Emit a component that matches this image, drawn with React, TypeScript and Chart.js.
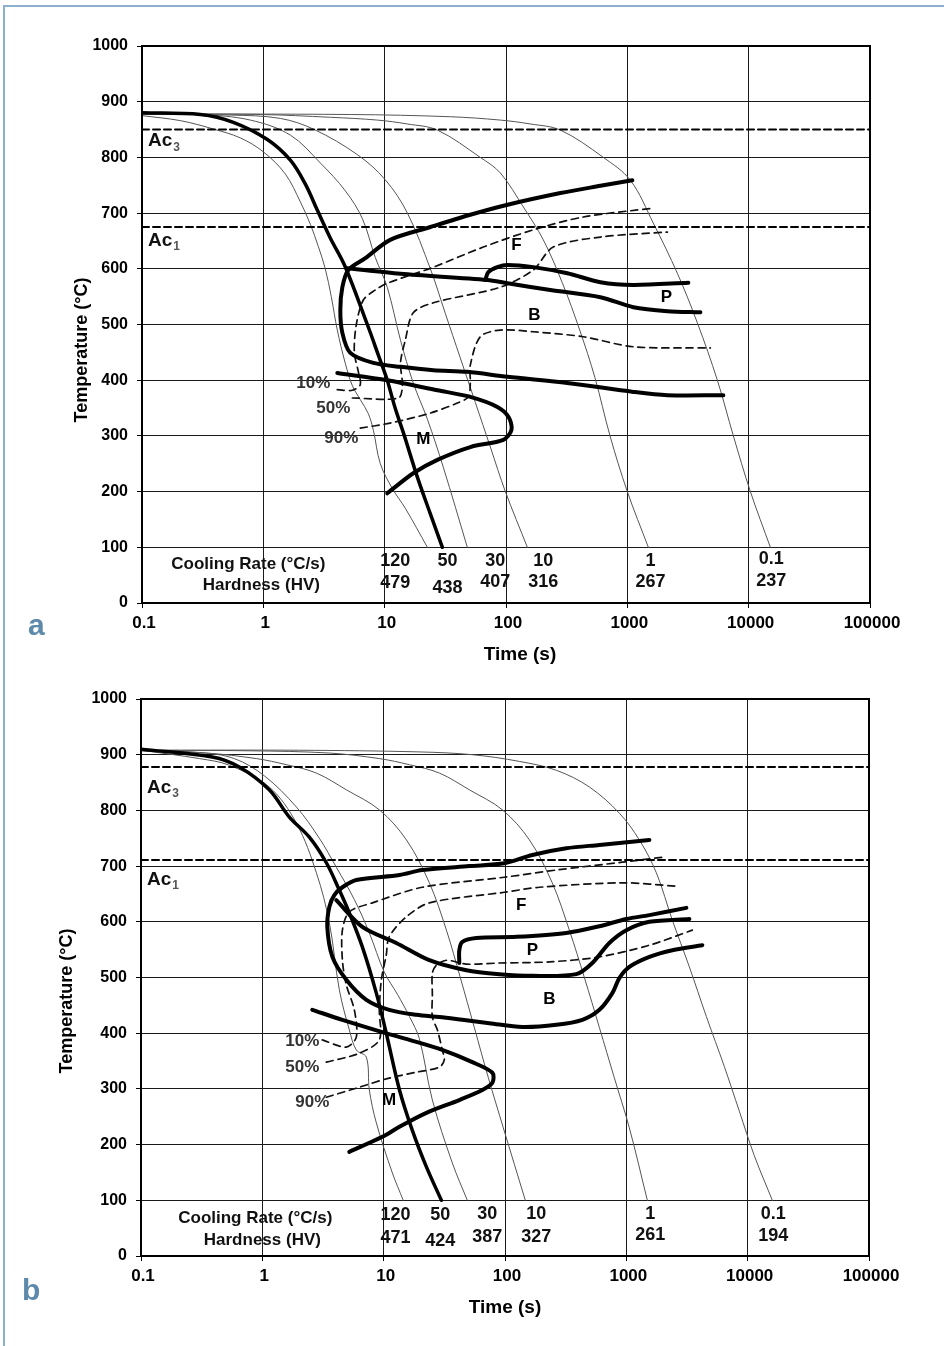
import React, { useEffect, useRef } from 'react';
import { Chart, registerables } from 'chart.js';

Chart.register(...registerables);

const FONT = "'Liberation Sans', Arial, Helvetica, sans-serif";
Chart.defaults.font.family = FONT;

type P = [number, number];

// ---------- shared axes ----------
const xTickValues = [0.1, 1, 10, 100, 1000, 10000, 100000];
const xTickLabels = ['0.1', '1', '10', '100', '1000', '10000', '100000'];
const yTickValues = [0, 100, 200, 300, 400, 500, 600, 700, 800, 900, 1000];
const xTitle = 'Time (s)';
const yTitle = 'Temperature (°C)';
const rateTitle = 'Cooling Rate (°C/s)';
const hvTitle = 'Hardness (HV)';
const pctText = ['10%', '50%', '90%'];
const regionText = ['F', 'P', 'B', 'M'];

// ---------- chart a ----------
const aAc3 = 850;
const aAc1 = 675;
const aCool120: P[] = [[0.1, 875], [0.207, 866], [0.387, 851], [0.646, 835], [1, 810], [1.52, 770], [2.02, 720], [2.44, 680], [2.84, 640], [3.24, 600], [3.63, 550], [4.07, 490], [4.74, 430], [5.42, 390], [6.3, 365], [7.33, 340], [8.07, 310], [9.21, 250], [11.6, 205], [14.8, 170], [22.5, 100]];
const aCool50: P[] = [[0.1, 880], [0.303, 877], [0.566, 863], [1.08, 832], [1.67, 795], [2.22, 752], [2.79, 705], [3.57, 655], [4.7, 605], [7.2, 500], [8.87, 445], [10.5, 400], [12.2, 350], [14.3, 305], [18.6, 226], [23.8, 160], [29.9, 100]];
const aCool30: P[] = [[0.1, 878], [0.303, 877], [0.782, 867], [1.67, 840], [2.95, 790], [4.74, 740], [6.55, 690], [8.38, 620], [10.5, 567], [13.5, 472], [17.2, 395], [22.5, 330], [30.4, 244], [48.0, 100]];
const aCool10: P[] = [[0.1, 878], [0.535, 876], [1.38, 870], [2.63, 850], [5.95, 805], [10.1, 760], [15.4, 700], [23.8, 600], [31.6, 520], [42.0, 440], [55.9, 360], [74.3, 280], [98.8, 200], [150, 100]];
const aCool1: P[] = [[0.1, 878], [0.945, 877], [3.57, 872], [8.7, 867], [15.4, 860], [27.2, 849], [61.4, 800], [89.8, 772], [139, 711], [203, 652], [291, 575], [405, 490], [540, 405], [720, 300], [1000, 200], [1490, 100]];
const aCool01: P[] = [[0.1, 878], [5.21, 877], [34.8, 873], [89.8, 867], [159, 860], [281, 849], [634, 800], [1059, 759], [1637, 682], [2583, 592], [3777, 503], [5520, 400], [7480, 300], [10330, 200], [15100, 100]];
const aFerriteBainiteStart: P[] = [[1100, 759], [600, 749], [281, 736], [103, 715], [50.8, 697], [23.8, 675], [11.1, 652], [6.93, 619], [5.02, 598], [4.48, 567], [4.31, 526], [4.48, 485], [5.21, 449], [8.07, 431], [13.5, 424], [25.2, 418], [48.0, 415], [103, 406], [320, 395], [1121, 379], [2137, 373], [6186, 373]];
const aPearliteEnd: P[] = [[4.92, 601], [13.5, 591], [70.2, 580], [103, 574], [232, 562], [600, 549], [1121, 531], [2137, 524], [4000, 522]];
const aPearliteStart: P[] = [[67.6, 580], [71.5, 594], [84.9, 603], [103, 607], [168, 603], [320, 592], [600, 576], [1121, 571], [3184, 575]];
const aMartensite: P[] = [[4.07, 413], [10.5, 400], [27.2, 382], [50.8, 370], [84.9, 352], [105, 334], [111, 311], [95.1, 293], [50.8, 280], [27.2, 257], [17.2, 233], [10.5, 197]];
const aPct10: P[] = [[4.07, 383], [5.42, 382], [6.3, 392], [6.07, 415], [5.62, 450], [5.84, 500], [6.67, 544], [8.38, 562], [10.5, 574], [25.2, 603], [65.0, 639], [168, 670], [434, 693], [1637, 709]];
const aPct50: P[] = [[5.42, 368], [12.97, 368], [14.0, 391], [13.5, 431], [14.8, 472], [17.2, 521], [25.2, 539], [89.8, 567], [168, 598], [245, 639], [600, 657], [2137, 666]];
const aPct90: P[] = [[6.3, 314], [11.1, 323], [23.8, 341], [39.7, 359], [48.9, 370], [50.8, 395], [50.8, 427], [61.4, 478], [89.8, 490], [168, 487], [434, 478], [1121, 460], [4831, 458]];
const aRegionTime = [122, 2097, 171, 20.8];
const aRegionTemp = [643, 548, 517, 294];
const aPctTime = [3.57, 5.21, 6.07];
const aPctTemp = [395, 350, 296];
const aRates = ['120', '50', '30', '10', '1', '0.1'];
const aHardness = ['479', '438', '407', '316', '267', '237'];
const aRateTime = [12.2, 32.9, 81.7, 203, 1549, 15380];
const aRateTemp = [75, 75, 75, 75, 75, 79];
const aHvTemp = [36, 27, 38, 38, 38, 39];
const aTableTitleTime = [0.752, 0.963];
const aTableTitleTemp = [70, 32];
const aAcLabelTemp = [829, 650];

// ---------- chart b ----------
const bAc3 = 878;
const bAc1 = 711;
const bCool120: P[] = [[0.1, 908], [0.303, 893], [0.535, 881], [1.14, 842], [1.91, 777], [2.79, 688], [3.57, 598], [4.31, 478], [5.21, 406], [5.95, 370], [7.2, 357], [7.62, 298], [8.7, 239], [11.8, 149], [14.5, 100]];
const bCool50: P[] = [[0.1, 910], [0.387, 896], [0.646, 878], [1.14, 837], [1.67, 788], [2.44, 752], [3.37, 706], [4.31, 657], [5.21, 616], [6.67, 555], [8.7, 472], [10.5, 400], [13.5, 298], [17.2, 226], [22.5, 160], [29.9, 100]];
const bCool30: P[] = [[0.1, 908], [0.303, 904], [0.588, 893], [1.04, 862], [1.91, 806], [2.95, 750], [4.07, 698], [5.73, 640], [7.62, 580], [10.1, 510], [12.97, 470], [16.3, 430], [19.7, 390], [25.2, 280], [36.8, 167], [48.9, 100]];
const bCool10: P[] = [[0.1, 907], [0.345, 903], [0.893, 893], [1.58, 882], [2.79, 867], [4.92, 837], [9.21, 801], [15.4, 747], [23.8, 670], [32.9, 585], [42.8, 500], [55.9, 410], [72.9, 320], [96.9, 230], [147, 100]];
const bCool1: P[] = [[0.1, 908], [0.782, 907], [3.57, 903], [9.21, 893], [16.3, 882], [28.8, 867], [50.8, 837], [95.1, 801], [159, 747], [245, 670], [339, 585], [451, 500], [600, 410], [796, 320], [1059, 230], [1490, 100]];
const bCool01: P[] = [[0.1, 908], [2.02, 908], [19.7, 905], [53.8, 900], [131, 888], [265, 872], [496, 842], [876, 795], [1280, 747], [1767, 688], [2394, 603], [3307, 519], [4565, 430], [6425, 340], [8536, 260], [11350, 180], [15970, 100]];
const bFerriteBainiteStart: P[] = [[1549, 747], [600, 738], [320, 732], [168, 720], [98.8, 705], [50.8, 700], [20.8, 693], [13.5, 684], [5.95, 675], [4.57, 662], [3.92, 648], [3.57, 627], [3.43, 591], [3.78, 537], [4.92, 496], [7.2, 460], [11.1, 442], [18.6, 433], [28.8, 429], [44.5, 424], [74.3, 418], [139, 411], [265, 415], [434, 424], [600, 442], [767, 472], [876, 499], [1059, 519], [1549, 537], [2394, 549], [4231, 558]];
const bPearliteEnd: P[] = [[4.07, 639], [6.67, 591], [12.7, 562], [23.8, 531], [48.0, 513], [89.8, 506], [168, 503], [387, 506], [525, 526], [724, 562], [1000, 585], [1549, 600], [3307, 605]];
const bPearliteStart: P[] = [[42.0, 526], [42.0, 549], [44.5, 564], [58.0, 571], [124, 573], [320, 580], [600, 592], [1000, 605], [1549, 612], [3124, 625]];
const bMartensite: P[] = [[2.58, 442], [4.57, 424], [9.75, 402], [16.3, 388], [30.4, 370], [53.8, 348], [78.7, 329], [78.7, 311], [65.0, 298], [42.0, 280], [22.5, 257], [13.5, 232], [9.75, 214], [5.21, 187]];
const bPct10: P[] = [[3.12, 388], [4.92, 375], [5.95, 393], [5.73, 442], [4.92, 487], [4.57, 531], [4.57, 585], [5.21, 618], [8.07, 634], [20.8, 662], [98.8, 680], [265, 693], [927, 707], [1982, 716]];
const bPct50: P[] = [[3.37, 348], [6.3, 364], [9.21, 388], [9.21, 442], [9.57, 496], [10.5, 540], [11.1, 573], [15.4, 609], [23.8, 634], [98.8, 653], [192, 662], [927, 670], [2583, 664]];
const bPct90: P[] = [[3.37, 285], [6.3, 303], [10.5, 318], [18.6, 330], [28.8, 339], [31.6, 352], [30.4, 370], [27.7, 406], [25.2, 429], [25.2, 469], [25.2, 508], [27.2, 522], [32.9, 531], [48.0, 524], [89.8, 526], [232, 528], [600, 537], [1549, 558], [3499, 585]];
const bRegionTime = [136, 168, 232, 11.1];
const bRegionTemp = [630, 549, 460, 280];
const bPctTime = [2.95, 2.95, 3.57];
const bPctTemp = [386, 338, 276];
const bRates = ['120', '50', '30', '10', '1', '0.1'];
const bHardness = ['471', '424', '387', '327', '261', '194'];
const bRateTime = [12.5, 29.3, 71.5, 181, 1577, 16280];
const bRateTemp = [74, 74, 75, 75, 75, 75];
const bHvTemp = [32, 27, 34, 34, 38, 36];
const bTableTitleTime = [0.875, 1.0];
const bTableTitleTemp = [68, 29];
const bAcLabelTemp = [840, 675];

// ---------- helpers ----------
type Item = { t: number; T: number; text: string; font: string; align?: CanvasTextAlign; color?: string };

function ds(pts: P[], color: string, width: number, dash: number[] = [], tension = 0.35) {
  return {
    data: pts.map(([x, y]) => ({ x, y })),
    borderColor: color,
    borderWidth: width,
    borderDash: dash,
    pointRadius: 0,
    fill: false,
    tension,
    borderCapStyle: 'round' as const,
  };
}

interface Spec {
  ac3: number; ac1: number;
  cools: P[][]; coolThick: P[];
  solids: P[][]; dashes: P[][];
  regionTime: number[]; regionTemp: number[];
  pctTime: number[]; pctTemp: number[];
  rates: string[]; hardness: string[]; rateTime: number[]; rateTemp: number[]; hvTemp: number[];
  tableTime: number[]; tableTemp: number[]; acTemp: number[];
  padTop: number; padRight: number; yAxisWidth: number; xAxisHeight: number;
  yTitlePos: [number, number]; xTitlePos: [number, number];
}

function makePlugin(spec: Spec) {
  return {
    id: 'cctText',
    afterDatasetsDraw(chart: any) {
      const { ctx, chartArea: a, scales } = chart;
      const xs = scales.x, ys = scales.y;
      ctx.save();
      ctx.strokeStyle = '#000';
      ctx.lineWidth = 2;
      ctx.strokeRect(a.left, a.top, a.right - a.left, a.bottom - a.top);
      ctx.fillStyle = '#000';
      ctx.textBaseline = 'middle';
      ctx.font = `bold 16px ${FONT}`;
      ctx.textAlign = 'right';
      yTickValues.forEach((v) => ctx.fillText(String(v), a.left - 14, ys.getPixelForValue(v)));
      ctx.font = `bold 17px ${FONT}`;
      ctx.textAlign = 'center';
      xTickValues.forEach((v, i) => ctx.fillText(xTickLabels[i], xs.getPixelForValue(v) + 2, a.bottom + 20));
      // axis titles
      ctx.font = `bold 19px ${FONT}`;
      ctx.fillText(xTitle, spec.xTitlePos[0], spec.xTitlePos[1]);
      ctx.save();
      ctx.translate(spec.yTitlePos[0], spec.yTitlePos[1]);
      ctx.rotate(-Math.PI / 2);
      ctx.font = `bold 18px ${FONT}`;
      ctx.fillText(yTitle, 0, 0);
      ctx.restore();

      const items: Item[] = [];
      regionText.forEach((s, i) => items.push({ t: spec.regionTime[i], T: spec.regionTemp[i], text: s, font: `bold 17px ${FONT}` }));
      pctText.forEach((s, i) => items.push({ t: spec.pctTime[i], T: spec.pctTemp[i], text: s, font: `bold 17px ${FONT}`, align: 'right', color: '#333' }));
      spec.rates.forEach((s, i) => items.push({ t: spec.rateTime[i], T: spec.rateTemp[i], text: s, font: `bold 18px ${FONT}`, color: '#111' }));
      spec.hardness.forEach((s, i) => items.push({ t: spec.rateTime[i], T: spec.hvTemp[i], text: s, font: `bold 18px ${FONT}`, color: '#111' }));
      items.push({ t: spec.tableTime[0], T: spec.tableTemp[0], text: rateTitle, font: `bold 17px ${FONT}`, color: '#111' });
      items.push({ t: spec.tableTime[1], T: spec.tableTemp[1], text: hvTitle, font: `bold 17px ${FONT}`, color: '#111' });
      for (const it of items) {
        ctx.font = it.font;
        ctx.fillStyle = it.color || '#000';
        ctx.textAlign = it.align || 'center';
        ctx.fillText(it.text, xs.getPixelForValue(it.t), ys.getPixelForValue(it.T));
      }
      // Ac labels
      ['3', '1'].forEach((sub, i) => {
        const x0 = a.left + 6;
        const y0 = ys.getPixelForValue(spec.acTemp[i]);
        ctx.font = `bold 19px ${FONT}`;
        ctx.fillStyle = '#111';
        ctx.textAlign = 'left';
        ctx.fillText('Ac', x0, y0);
        const w = ctx.measureText('Ac').width;
        ctx.font = `bold 12px ${FONT}`;
        ctx.fillStyle = '#555';
        ctx.fillText(sub, x0 + w + 1, y0 + 6);
      });
      ctx.restore();
    },
  };
}

function makeConfig(spec: Spec): any {
  const datasets: any[] = [];
  datasets.push(ds([[0.1, spec.ac3], [100000, spec.ac3]], '#000', 2, [7, 4], 0));
  datasets.push(ds([[0.1, spec.ac1], [100000, spec.ac1]], '#000', 2, [7, 4], 0));
  spec.solids.forEach((p) => datasets.push(ds(p, '#000', 4, [], 0.3)));
  spec.dashes.forEach((p) => datasets.push(ds(p, '#111', 1.7, [7, 5], 0.3)));
  datasets.push(ds(spec.coolThick, '#000', 3.5, [], 0.35));
  spec.cools.forEach((p) => datasets.push(ds(p, '#555', 1, [], 0.35)));
  const grid = { color: '#1a1a1a', lineWidth: 1, drawTicks: true, tickLength: 5, tickColor: '#000' };
  return {
    type: 'line',
    data: { datasets },
    options: {
      responsive: false,
      animation: false,
      events: [],
      layout: { padding: { left: 0, top: spec.padTop, right: spec.padRight, bottom: 0 } },
      plugins: { legend: { display: false }, tooltip: { enabled: false } },
      scales: {
        x: {
          type: 'logarithmic', min: 0.1, max: 100000,
          afterBuildTicks: (s: any) => { s.ticks = xTickValues.map((v) => ({ value: v })); },
          afterFit: (s: any) => { s.height = spec.xAxisHeight; },
          ticks: { display: false },
          grid,
          border: { display: true, color: '#000', width: 2 },
        },
        y: {
          type: 'linear', min: 0, max: 1000,
          afterBuildTicks: (s: any) => { s.ticks = yTickValues.map((v) => ({ value: v })); },
          afterFit: (s: any) => { s.width = spec.yAxisWidth; },
          ticks: { display: false },
          grid,
          border: { display: true, color: '#000', width: 2 },
        },
      },
    },
    plugins: [makePlugin(spec)],
  };
}

const specA: Spec = {
  ac3: aAc3, ac1: aAc1,
  cools: [aCool120, aCool30, aCool10, aCool1, aCool01], coolThick: aCool50,
  solids: [aFerriteBainiteStart, aPearliteEnd, aPearliteStart, aMartensite],
  dashes: [aPct10, aPct50, aPct90],
  regionTime: aRegionTime, regionTemp: aRegionTemp,
  pctTime: aPctTime, pctTemp: aPctTemp,
  rates: aRates, hardness: aHardness, rateTime: aRateTime, rateTemp: aRateTemp, hvTemp: aHvTemp,
  tableTime: aTableTitleTime, tableTemp: aTableTitleTemp, acTemp: aAcLabelTemp,
  padTop: 46, padRight: 74, yAxisWidth: 142, xAxisHeight: 77,
  yTitlePos: [82, 350], xTitlePos: [520, 655],
};

const specB: Spec = {
  ac3: bAc3, ac1: bAc1,
  cools: [bCool120, bCool30, bCool10, bCool1, bCool01], coolThick: bCool50,
  solids: [bFerriteBainiteStart, bPearliteEnd, bPearliteStart, bMartensite],
  dashes: [bPct10, bPct50, bPct90],
  regionTime: bRegionTime, regionTemp: bRegionTemp,
  pctTime: bPctTime, pctTemp: bPctTemp,
  rates: bRates, hardness: bHardness, rateTime: bRateTime, rateTemp: bRateTemp, hvTemp: bHvTemp,
  tableTime: bTableTitleTime, tableTemp: bTableTitleTemp, acTemp: bAcLabelTemp,
  padTop: 19, padRight: 75, yAxisWidth: 141, xAxisHeight: 90,
  yTitlePos: [67, 321], xTitlePos: [505, 628],
};

export default function App() {
  const refA = useRef<HTMLCanvasElement>(null);
  const refB = useRef<HTMLCanvasElement>(null);
  useEffect(() => {
    const ca = new Chart(refA.current as HTMLCanvasElement, makeConfig(specA));
    const cb = new Chart(refB.current as HTMLCanvasElement, makeConfig(specB));
    return () => {
      ca.destroy();
      cb.destroy();
    };
  }, []);
  const letter: React.CSSProperties = {
    position: 'absolute', font: `bold 30px ${FONT}`, lineHeight: '30px', color: '#5d89ab',
  };
  return (
    <div style={{ position: 'absolute', left: 0, top: 0, width: 944, height: 1346, background: '#fff', overflow: 'hidden' }}>
      <div style={{ position: 'absolute', left: 3, top: 5, width: 941, height: 1341, borderLeft: '2px solid #8fb0cc', borderTop: '2px solid #8fb0cc', boxSizing: 'border-box' }} />
      <canvas ref={refA} width={944} height={680} style={{ position: 'absolute', left: 0, top: 0, width: 944, height: 680 }} />
      <canvas ref={refB} width={944} height={666} style={{ position: 'absolute', left: 0, top: 680, width: 944, height: 666 }} />
      <div style={{ ...letter, left: 28, top: 610 }}>a</div>
      <div style={{ ...letter, left: 22, top: 1275 }}>b</div>
    </div>
  );
}
